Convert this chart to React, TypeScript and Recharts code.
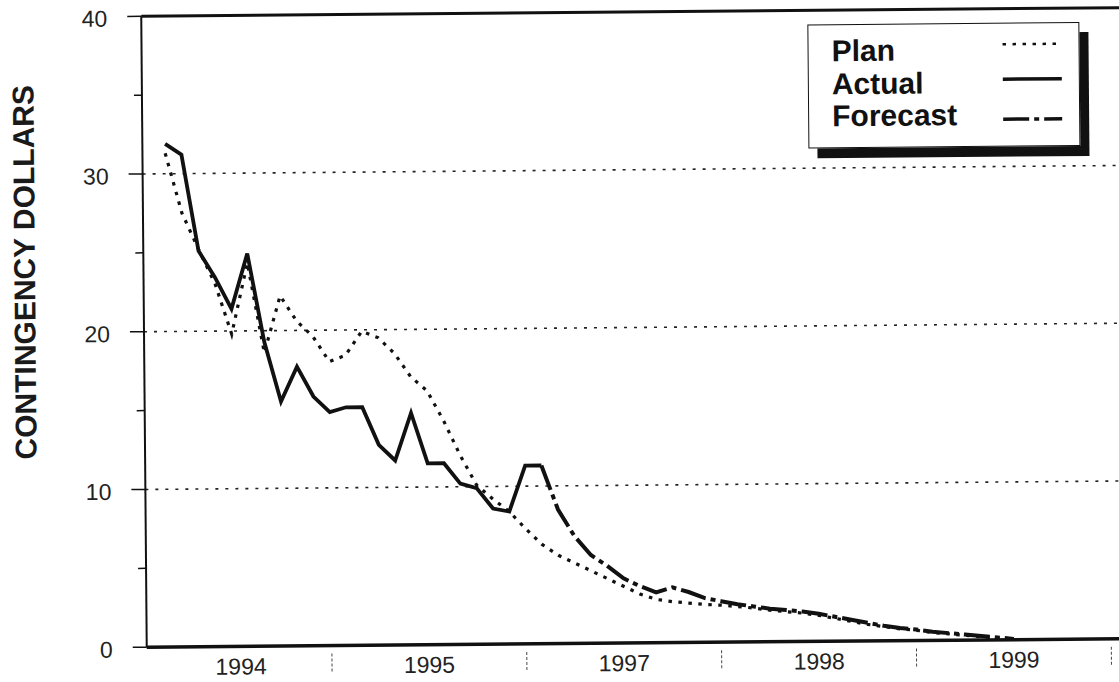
import React from "react";
import { LineChart, Line, XAxis, YAxis, ReferenceLine, Legend, Label } from "recharts";

// ─── Data (monthly points, index 0 = first report) ───────────────────────────

const planValues = [
  31.3, 27.5, 25.2, 23.0, 19.8, 24.3, 18.6, 22.2, 20.6, 19.6, 18.0, 18.4, 19.9,
  19.5, 18.5, 17.0, 16.1, 14.2, 12.0, 10.1, 9.2, 8.4, 7.3, 6.3, 5.6, 5.1, 4.6,
  4.1, 3.6, 3.1, 2.75, 2.6, 2.5, 2.4, 2.35, 2.25, 2.15, 2.0, 1.9, 1.8, 1.65,
  1.45, 1.25, 1.05, 0.9, 0.75, 0.65, 0.5, 0.4, 0.3, 0.2, 0.1, 0,
];

const actualValues = [
  31.9, 31.2, 25.1, 23.4, 21.4, 24.9, 19.3, 15.5, 17.7, 15.8, 14.8, 15.1, 15.1,
  12.7, 11.7, 14.7, 11.5, 11.5, 10.2, 9.9, 8.6, 8.4, 11.3, 11.3,
];

const forecastValues = [
  null, null, null, null, null, null, null, null, null, null, null, null, null,
  null, null, null, null, null, null, null, null, null, null,
  11.3, 8.5, 6.8, 5.6, 4.9, 4.1, 3.6, 3.2, 3.5, 3.2, 2.8, 2.6, 2.4, 2.25, 2.1,
  2.0, 1.9, 1.75, 1.55, 1.35, 1.15, 0.95, 0.8, 0.7, 0.55, 0.45, 0.35, 0.25,
  0.15, 0.05,
];

// year labels sit in the middle of each year, dashed marks on the year breaks
const yearLabels = ["1994", "1995", "1997", "1998", "1999"];
const yearMid = [4.4, 16, 28, 40, 52];
const yearBreaks = [10, 22, 34, 46, 58];

const yTicks = [0, 5, 10, 15, 20, 25, 30, 35, 40];
const gridValues = [10, 20, 30];

const legendOrder = ["Plan", "Actual", "Forecast"];

const data = planValues.map((p, i) => ({
  m: i,
  plan: p,
  actual: i < actualValues.length ? actualValues[i] : null,
  forecast: forecastValues[i],
}));

// ─── Styles ──────────────────────────────────────────────────────────────────

const FONT = '"Liberation Sans", Arial, Helvetica, sans-serif';
const INK = "#111";

const lineStyles: Record<string, string | undefined> = {
  plan: "3.5 6.5",
  actual: undefined,
  forecast: "26 5 5 5",
};

// ─── Ticks ───────────────────────────────────────────────────────────────────

function YearTick({ x, y, payload }: any) {
  const v = payload.value;
  if (yearBreaks.includes(v)) {
    return (
      <line x1={x} x2={x} y1={y + 8} y2={y + 28} stroke="#444" strokeWidth={1} strokeDasharray="3 2" />
    );
  }
  const i = yearMid.indexOf(v);
  return (
    <text x={x} y={y + 28} textAnchor="middle" fill="#222" fontFamily={FONT} fontSize={23}>
      {yearLabels[i]}
    </text>
  );
}

function ValueTick({ x, y, payload }: any) {
  const v = payload.value;
  if (v % 10 !== 0) {
    return <line x1={x - 8} x2={x} y1={y} y2={y} stroke={INK} strokeWidth={1.5} />;
  }
  return (
    <g>
      <line x1={x - 14} x2={x} y1={y} y2={y} stroke={INK} strokeWidth={1.5} />
      <text x={x - 34} y={y + 10} textAnchor="end" fill="#222" fontFamily={FONT} fontSize={23}>
        {v}
      </text>
    </g>
  );
}

// ─── Legend box with drop shadow ─────────────────────────────────────────────

function LegendBox({ payload }: any) {
  const rows = [36, 69, 101];
  const samples = [20.5, 55.5, 95.5];
  const items = [...(payload || [])].sort(
    (a: any, b: any) => legendOrder.indexOf(a.value) - legendOrder.indexOf(b.value)
  );
  return (
    <div
      style={{
        width: 272,
        height: 124,
        boxSizing: "border-box",
        border: `1.5px solid ${INK}`,
        background: "#fff",
        boxShadow: `9px 10px 0 ${INK}`,
      }}
    >
      <svg width={270} height={121} style={{ display: "block" }}>
        {items.map((entry: any, i: number) => (
          <g key={entry.value}>
            <text x={23} y={rows[i]} fill={INK} fontFamily={FONT} fontWeight={700} fontSize={30}>
              {entry.value}
            </text>
            <line
              x1={194}
              x2={253}
              y1={samples[i]}
              y2={samples[i]}
              stroke={INK}
              strokeWidth={i === 0 ? 2.5 : 3.5}
              strokeDasharray={lineStyles[entry.dataKey]}
            />
          </g>
        ))}
      </svg>
    </div>
  );
}

// ─── Chart ───────────────────────────────────────────────────────────────────

export default function App() {
  return (
    <div
      style={{
        position: "fixed",
        left: 0,
        top: 0,
        width: 1119,
        height: 682,
        overflow: "hidden",
        background: "#fff",
      }}
    >
      {/* the scanned original sits a little crooked */}
      <div
        style={{
          position: "absolute",
          left: 0,
          top: 0,
          transform: "rotate(-0.5deg)",
          transformOrigin: "630px 330px",
        }}
      >
        <LineChart width={1141} height={682} data={data} margin={{ top: 12, right: 0, bottom: 0, left: 0 }}>
          <XAxis
            dataKey="m"
            type="number"
            domain={[-1.4, 60]}
            allowDataOverflow
            ticks={[...yearMid, ...yearBreaks]}
            interval={0}
            height={39}
            tickSize={0}
            tickMargin={0}
            tickLine={false}
            axisLine={{ stroke: INK, strokeWidth: 3.5 }}
            tick={<YearTick />}
          />
          <YAxis
            type="number"
            domain={[0, 40]}
            ticks={yTicks}
            interval={0}
            width={144}
            tickSize={0}
            tickMargin={0}
            tickLine={false}
            axisLine={{ stroke: INK, strokeWidth: 2 }}
            tick={<ValueTick />}
          >
            <Label
              content={() => (
                <text
                  x={25}
                  y={267}
                  transform="rotate(-90 25 267)"
                  textAnchor="middle"
                  dominantBaseline="central"
                  fill="#1a1a1a"
                  fontFamily={FONT}
                  fontWeight={700}
                  fontSize={30}
                >
                  CONTINGENCY DOLLARS
                </text>
              )}
            />
          </YAxis>
          {gridValues.map((v) => (
            <ReferenceLine key={v} y={v} stroke="#222" strokeWidth={1.6} strokeDasharray="3 7" />
          ))}
          <ReferenceLine y={40} stroke={INK} strokeWidth={3} />
          <Legend
            layout="horizontal"
            verticalAlign="middle"
            align="center"
            content={<LegendBox />}
            wrapperStyle={{ left: 810, top: 26, width: 272, height: 124 }}
          />
          <Line
            name="Plan"
            dataKey="plan"
            type="linear"
            stroke={INK}
            strokeWidth={3.2}
            strokeDasharray={lineStyles.plan}
            dot={false}
            activeDot={false}
            isAnimationActive={false}
          />
          <Line
            name="Actual"
            dataKey="actual"
            type="linear"
            stroke={INK}
            strokeWidth={3.8}
            strokeLinejoin="miter"
            dot={false}
            activeDot={false}
            isAnimationActive={false}
          />
          <Line
            name="Forecast"
            dataKey="forecast"
            type="linear"
            stroke={INK}
            strokeWidth={4}
            strokeDasharray={lineStyles.forecast}
            dot={false}
            activeDot={false}
            isAnimationActive={false}
          />
        </LineChart>
      </div>
    </div>
  );
}
